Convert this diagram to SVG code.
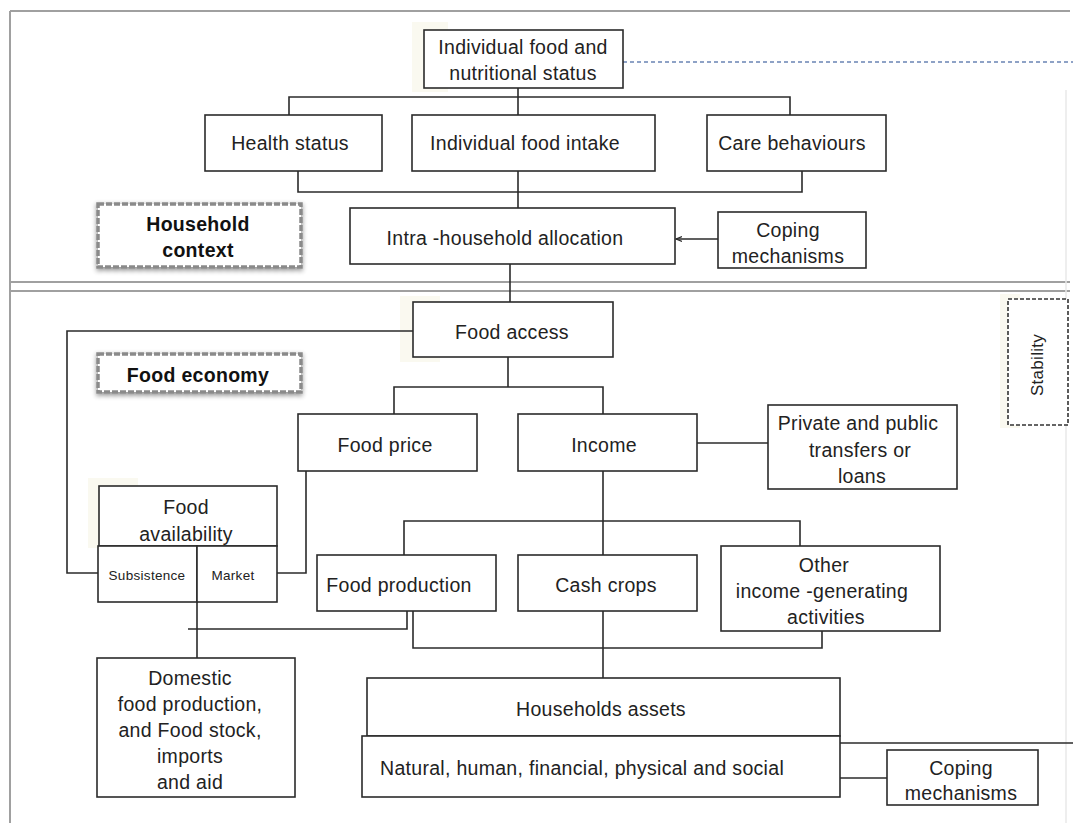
<svg xmlns="http://www.w3.org/2000/svg" width="1073" height="823" viewBox="0 0 1073 823">
<defs>
<style>
.box{fill:#fff;stroke:#2b2b2b;stroke-width:1.6}
.t{font-family:"Liberation Sans",Arial,sans-serif;font-size:19.5px;letter-spacing:0.3px;fill:#222;text-anchor:middle}
.b{font-weight:bold;fill:#111}
.s{font-size:13.5px}
.c{fill:none;stroke:#2b2b2b;stroke-width:1.6}
.frame{fill:none;stroke:#a0a0a0;stroke-width:2}
.dash{fill:#fff;stroke:#8a8a8a;stroke-width:3.5;stroke-dasharray:6 2}
.glow{fill:#faf9f0}
</style>
<filter id="sh" x="-10%" y="-20%" width="125%" height="150%">
<feGaussianBlur in="SourceAlpha" stdDeviation="2.5"/>
<feOffset dx="0" dy="2" result="o"/>
<feComponentTransfer><feFuncA type="linear" slope="0.45"/></feComponentTransfer>
<feMerge><feMergeNode/><feMergeNode in="SourceGraphic"/></feMerge>
</filter>
<marker id="ah" markerWidth="8" markerHeight="8" refX="6" refY="4" orient="auto" markerUnits="userSpaceOnUse">
<path d="M0,1.5 L6,4 L0,6.5" fill="none" stroke="#2b2b2b" stroke-width="1.2"/>
</marker>
</defs>
<rect width="1073" height="823" fill="#fff"/>
<g id="frame">
<path class="frame" d="M10,11 H1070 M10,11 V823 M10,282 H1070 M10,291 H1070"/>
<path d="M1066,90 V823" stroke="#e8e8e8" stroke-width="1.5" fill="none"/>
<path d="M623,62 H1073" stroke="#8ea2c6" stroke-width="2" stroke-dasharray="4 3" fill="none"/>
</g>
<g id="glows">
<rect class="glow" x="412" y="22" width="36" height="70"/>
<rect class="glow" x="400" y="296" width="40" height="66"/>
<rect class="glow" x="88" y="478" width="50" height="70"/>
<rect class="glow" x="1000" y="294" width="20" height="134"/>
</g>
<g id="connectors">
<path class="c" d="M518,88 V115 M289,115 V97 H790 V115"/>
<path class="c" d="M298,171 V192 H802 V171 M518,171 V209"/>
<path class="c" d="M718,239 H676" marker-end="url(#ah)"/>
<path class="c" d="M510,264 V302"/>
<path class="c" d="M413,331 H67 V573 H98"/>
<path class="c" d="M508,357 V387 M394,414 V387 H603 V414"/>
<path class="c" d="M697,443 H768"/>
<path class="c" d="M306,471 V573 H277"/>
<path class="c" d="M603,471 V555 M404,555 V521 H800 V546"/>
<path class="c" d="M197,602 V658 M188,629 H407 V611"/>
<path class="c" d="M413,611 V648 H822 V631"/>
<path class="c" d="M603,611 V678"/>
<path class="c" d="M840,743 H1073"/>
<path class="c" d="M840,778 H887"/>
</g>
<g id="n-individual-status">
<rect class="box" x="424" y="30" width="199" height="58"/>
<text class="t" x="523" y="54">Individual food and</text>
<text class="t" x="523" y="80">nutritional status</text>
</g>
<g id="n-health">
<rect class="box" x="205" y="115" width="177" height="56"/>
<text class="t" x="290" y="150">Health status</text>
</g>
<g id="n-intake">
<rect class="box" x="412" y="115" width="243" height="56"/>
<text class="t" x="525" y="150">Individual food intake</text>
</g>
<g id="n-care">
<rect class="box" x="707" y="115" width="179" height="56"/>
<text class="t" x="792" y="150">Care behaviours</text>
</g>
<g id="n-household-context">
<rect class="dash" x="98" y="204" width="203" height="63" filter="url(#sh)"/>
<text class="t b" x="198" y="231">Household</text>
<text class="t b" x="198" y="257">context</text>
</g>
<g id="n-intra">
<rect class="box" x="350" y="208" width="325" height="56"/>
<text class="t" x="505" y="245">Intra -household allocation</text>
</g>
<g id="n-coping-top">
<rect class="box" x="718" y="212" width="148" height="56"/>
<text class="t" x="788" y="237">Coping</text>
<text class="t" x="788" y="263">mechanisms</text>
</g>
<g id="n-food-access">
<rect class="box" x="413" y="302" width="200" height="55"/>
<text class="t" x="512" y="339">Food access</text>
</g>
<g id="n-food-economy">
<rect class="dash" x="98" y="354" width="203" height="38" filter="url(#sh)"/>
<text class="t b" x="198" y="382">Food economy</text>
</g>
<g id="n-stability">
<rect x="1008" y="299" width="60" height="126" fill="#fff" stroke="#333" stroke-width="1.6" stroke-dasharray="4 2"/>
<text class="t" x="0" y="0" style="font-size:17px" transform="translate(1043,365) rotate(-90)">Stability</text>
</g>
<g id="n-food-price">
<rect class="box" x="298" y="414" width="179" height="57"/>
<text class="t" x="385" y="452">Food price</text>
</g>
<g id="n-income">
<rect class="box" x="518" y="414" width="179" height="57"/>
<text class="t" x="604" y="452">Income</text>
</g>
<g id="n-transfers">
<rect class="box" x="768" y="405" width="189" height="84"/>
<text class="t" x="858" y="430">Private and public</text>
<text class="t" x="860" y="457">transfers or</text>
<text class="t" x="862" y="483">loans</text>
</g>
<g id="n-food-availability">
<rect class="box" x="99" y="486" width="178" height="60"/>
<text class="t" x="186" y="514">Food</text>
<text class="t" x="186" y="541">availability</text>
<rect class="box" x="98" y="546" width="99" height="56"/>
<rect class="box" x="197" y="546" width="80" height="56"/>
<text class="t s" x="147" y="580">Subsistence</text>
<text class="t s" x="233" y="580">Market</text>
</g>
<g id="n-food-production">
<rect class="box" x="317" y="555" width="179" height="56"/>
<text class="t" x="399" y="592">Food production</text>
</g>
<g id="n-cash-crops">
<rect class="box" x="518" y="555" width="179" height="56"/>
<text class="t" x="606" y="592">Cash crops</text>
</g>
<g id="n-other-income">
<rect class="box" x="721" y="546" width="219" height="85"/>
<text class="t" x="824" y="572">Other</text>
<text class="t" x="822" y="598">income -generating</text>
<text class="t" x="826" y="624">activities</text>
</g>
<g id="n-domestic">
<rect class="box" x="97" y="658" width="198" height="139"/>
<text class="t" x="190" y="685">Domestic</text>
<text class="t" x="190" y="711">food production,</text>
<text class="t" x="190" y="737">and Food stock,</text>
<text class="t" x="190" y="763">imports</text>
<text class="t" x="190" y="789">and aid</text>
</g>
<g id="n-assets">
<rect class="box" x="367" y="678" width="473" height="58"/>
<text class="t" x="601" y="716">Households assets</text>
<rect class="box" x="362" y="736" width="478" height="61"/>
<text class="t" x="380" y="775" style="text-anchor:start">Natural, human, financial, physical and social</text>
</g>
<g id="n-coping-bottom">
<rect class="box" x="887" y="750" width="151" height="55"/>
<text class="t" x="961" y="775">Coping</text>
<text class="t" x="961" y="800">mechanisms</text>
</g>
</svg>
